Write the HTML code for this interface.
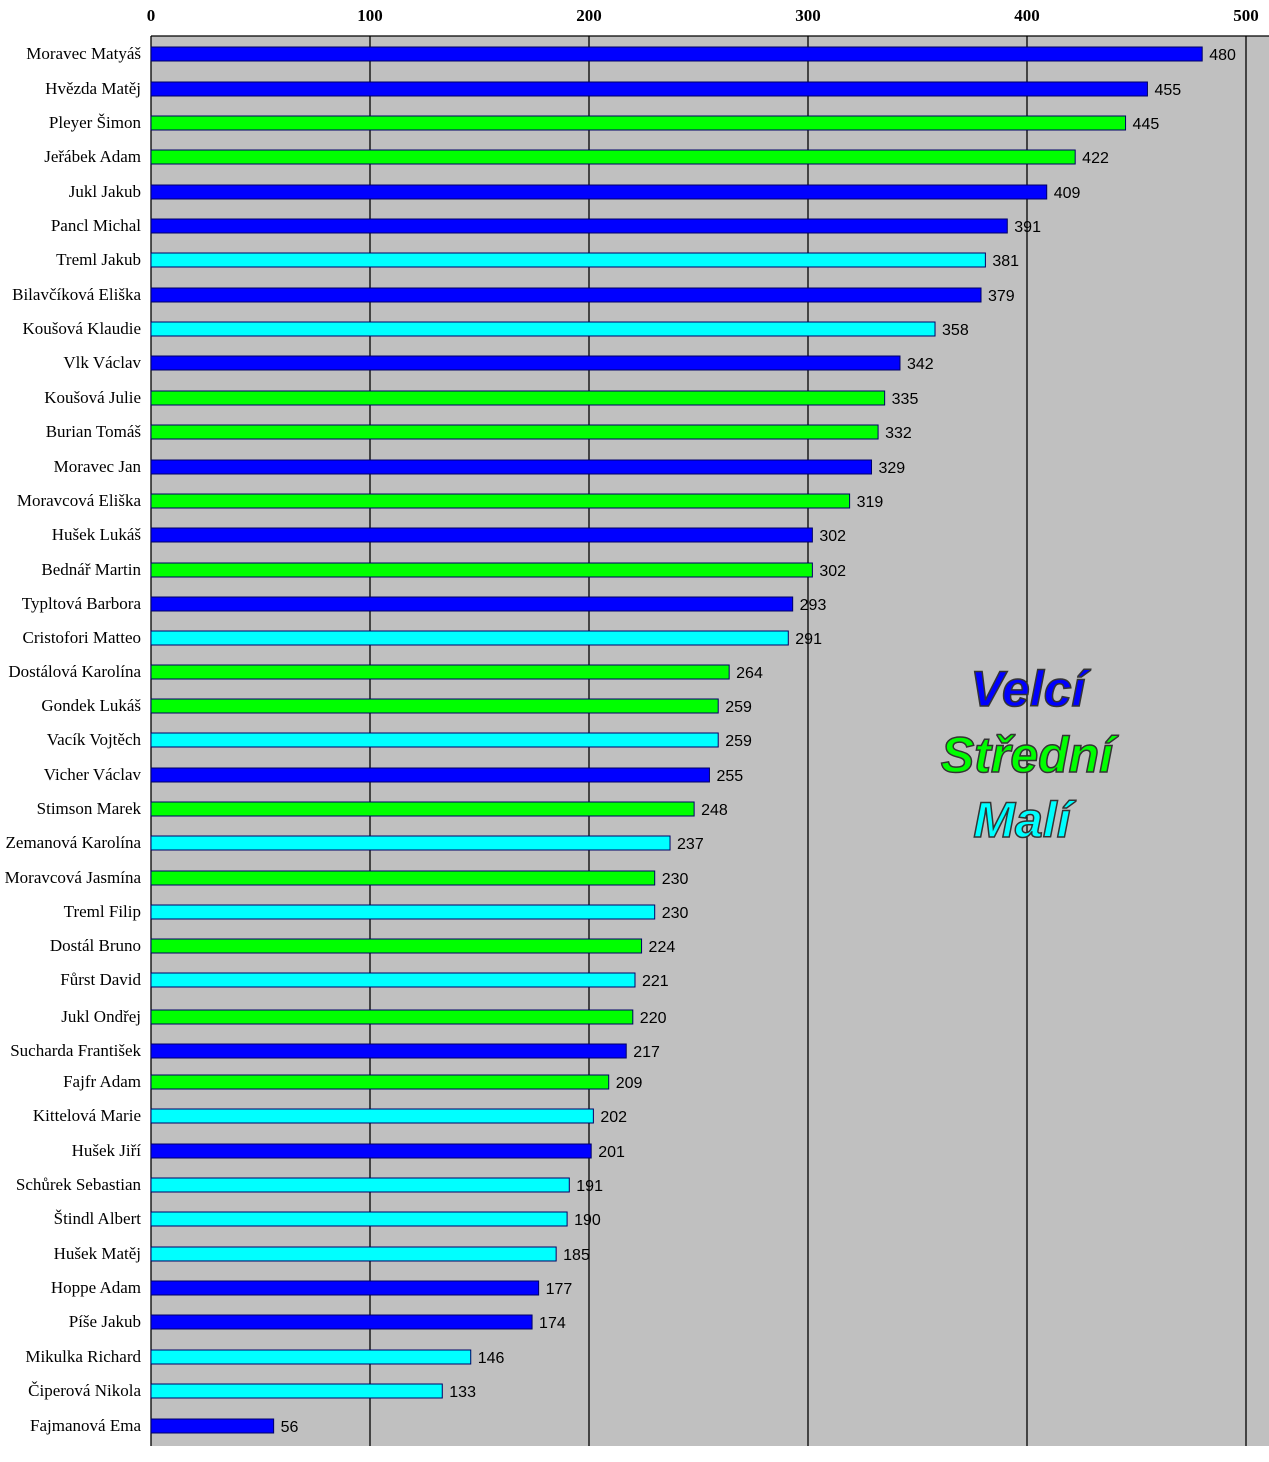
<!DOCTYPE html>
<html><head><meta charset="utf-8"><style>body{margin:0;background:#fff}</style></head>
<body>
<svg width="1269" height="1457" xmlns="http://www.w3.org/2000/svg">
<rect x="151" y="36" width="1118" height="1410" fill="#c0c0c0"/>
<g stroke="#000" stroke-width="1.3">
<line x1="151" y1="36" x2="1269" y2="36"/>
<line x1="151" y1="36" x2="151" y2="1446"/>
<line x1="370" y1="36" x2="370" y2="1446"/>
<line x1="589" y1="36" x2="589" y2="1446"/>
<line x1="808" y1="36" x2="808" y2="1446"/>
<line x1="1027" y1="36" x2="1027" y2="1446"/>
<line x1="1246" y1="36" x2="1246" y2="1446"/>
</g>
<g font-family="Liberation Serif, serif" font-weight="bold" font-size="17" text-anchor="middle">
<text x="151" y="21">0</text><text x="370" y="21">100</text><text x="589" y="21">200</text><text x="808" y="21">300</text><text x="1027" y="21">400</text><text x="1246" y="21">500</text>
</g>
<g id="bars"></g>
<g font-family="Liberation Sans, sans-serif" font-weight="bold" font-style="italic" font-size="50" text-anchor="middle" stroke="#333" stroke-width="1.5">
<text x="1028" y="706" fill="#0000ff">Velcí</text>
<text x="1027" y="772" fill="#00ff00">Střední</text>
<text x="1022" y="837" fill="#00ffff">Malí</text>
</g>
</svg>
<script>
const d=[["Moravec Matyáš",480,"B",54],["Hvězda Matěj",455,"B",89],["Pleyer Šimon",445,"G",123],["Jeřábek Adam",422,"G",157],["Jukl Jakub",409,"B",192],["Pancl Michal",391,"B",226],["Treml Jakub",381,"C",260],["Bilavčíková Eliška",379,"B",295],["Koušová Klaudie",358,"C",329],["Vlk Václav",342,"B",363],["Koušová Julie",335,"G",398],["Burian Tomáš",332,"G",432],["Moravec Jan",329,"B",467],["Moravcová Eliška",319,"G",501],["Hušek Lukáš",302,"B",535],["Bednář Martin",302,"G",570],["Typltová Barbora",293,"B",604],["Cristofori Matteo",291,"C",638],["Dostálová Karolína",264,"G",672],["Gondek Lukáš",259,"G",706],["Vacík Vojtěch",259,"C",740],["Vicher Václav",255,"B",775],["Stimson Marek",248,"G",809],["Zemanová Karolína",237,"C",843],["Moravcová Jasmína",230,"G",878],["Treml Filip",230,"C",912],["Dostál Bruno",224,"G",946],["Fůrst David",221,"C",980],["Jukl Ondřej",220,"G",1017],["Sucharda František",217,"B",1051],["Fajfr Adam",209,"G",1082],["Kittelová Marie",202,"C",1116],["Hušek Jiří",201,"B",1151],["Schůrek Sebastian",191,"C",1185],["Štindl Albert",190,"C",1219],["Hušek Matěj",185,"C",1254],["Hoppe Adam",177,"B",1288],["Píše Jakub",174,"B",1322],["Mikulka Richard",146,"C",1357],["Čiperová Nikola",133,"C",1391],["Fajmanová Ema",56,"B",1426]];
const col={B:"#0000ff",G:"#00ff00",C:"#00ffff"};
let s="";
for(const [n,v,c,y] of d){const w=v*2.19;
s+=`<rect x="151" y="${y-7}" width="${w}" height="14" fill="${col[c]}" stroke="#000066" stroke-width="1"/>`;
s+=`<text x="141" y="${y+5}" text-anchor="end" font-family="Liberation Serif, serif" font-size="17">${n}</text>`;
s+=`<text x="${151+w+7}" y="${y+6}" font-family="Liberation Sans, sans-serif" font-size="16">${v}</text>`;}
document.getElementById("bars").innerHTML=s;
</script>
</body></html>
